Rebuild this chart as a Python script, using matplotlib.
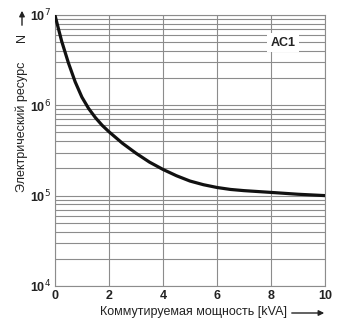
import matplotlib.pyplot as plt
from matplotlib.ticker import LogLocator, NullFormatter

# Данные кривой (коммутируемая мощность, kVA -> число циклов)
power = [0, 0.25, 0.5, 0.75, 1.0, 1.25, 1.5, 1.75, 2.0, 2.5, 3.0, 3.5, 4.0, 4.5,
         5.0, 5.5, 6.0, 6.5, 7.0, 8.0, 9.0, 10.0]
cycles = [1.0e7, 5.13e6, 2.95e6, 1.82e6, 1.23e6, 9.2e5, 7.3e5, 6.0e5, 5.1e5, 3.8e5,
          2.95e5, 2.35e5, 1.95e5, 1.66e5, 1.45e5, 1.32e5, 1.23e5, 1.17e5, 1.135e5,
          1.085e5, 1.035e5, 1.0e5]
x_ticks = [0, 2, 4, 6, 8, 10]
y_ticks = [1e4, 1e5, 1e6, 1e7]
y_labels = ['10$^4$', '10$^5$', '10$^6$', '10$^7$']
curve_label = 'AC1'

plt.rcParams['font.family'] = ['Liberation Sans', 'DejaVu Sans']

fig = plt.figure(figsize=(3.41, 3.26), dpi=100)
ax = fig.add_axes([0.161, 0.123, 0.792, 0.831])

grid_color = '#8c8c8c'
ax.plot(power, cycles, color='#111111', lw=2.3, solid_capstyle='round',
        solid_joinstyle='round', zorder=3)

ax.set_yscale('log')
ax.set_xlim(0, 10)
ax.set_ylim(1e4, 1e7)
ax.set_xticks(x_ticks)
ax.set_xticklabels([str(t) for t in x_ticks], fontsize=9, fontweight='bold', color='#222222')
ax.set_yticks(y_ticks)
ax.set_yticklabels(y_labels, fontsize=9, fontweight='bold', color='#222222')
ax.yaxis.set_minor_locator(LogLocator(base=10, subs=range(2, 10)))
ax.yaxis.set_minor_formatter(NullFormatter())
ax.tick_params(which='both', length=0, pad=3)

ax.grid(True, which='major', axis='both', color=grid_color, lw=0.8)
ax.grid(True, which='minor', axis='y', color=grid_color, lw=0.8)
for s in ax.spines.values():
    s.set_color(grid_color)
    s.set_linewidth(0.8)

ax.text(8.45, 4.9e6, curve_label, fontsize=9, fontweight='bold', ha='center', va='center',
        color='#222222', zorder=4,
        bbox=dict(facecolor='white', edgecolor='none', pad=2.5))

# подписи осей со стрелками
fig.text(22 / 341, 1 - 127 / 326, 'Электрический ресурс', rotation=90,
         ha='center', va='center', fontsize=9, color='#222222')
fig.text(22 / 341, 1 - 37 / 326, 'N', rotation=90,
         ha='center', va='center', fontsize=9, color='#222222')
ax.annotate('', xy=(22 / 341, 1 - 8 / 326), xytext=(22 / 341, 1 - 28 / 326),
            xycoords='figure fraction', textcoords='figure fraction',
            arrowprops=dict(arrowstyle='-|>', color='#222222', lw=1, mutation_scale=8))

fig.text(193 / 341, 1 - 312 / 326, 'Коммутируемая мощность [kVA]',
         ha='center', va='center', fontsize=9, color='#222222')
ax.annotate('', xy=(327 / 341, 1 - 313 / 326), xytext=(289 / 341, 1 - 313 / 326),
            xycoords='figure fraction', textcoords='figure fraction',
            arrowprops=dict(arrowstyle='-|>', color='#222222', lw=1, mutation_scale=8))

fig.savefig('out.png', dpi=100)
